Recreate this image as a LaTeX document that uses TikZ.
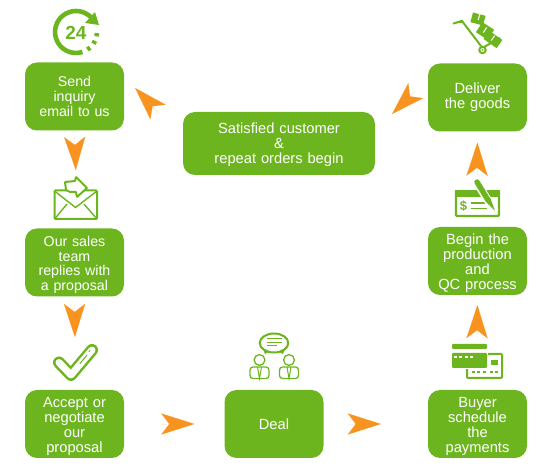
\documentclass[tikz,border=0pt]{standalone}
\usepackage{fontspec}
\setmainfont{Liberation Sans}
\usepackage{xcolor}
\definecolor{leaf}{HTML}{6DB51F}
\definecolor{amber}{HTML}{F7931E}
\usetikzlibrary{arrows.meta, calc}

\newcommand{\lowstrut}{\rule{0pt}{15pt}}

\tikzset{
  stepbox/.style={fill=leaf, text=white, rounded corners=12pt, minimum width=99pt,
    minimum height=68pt, align=center, inner sep=0pt, text width=97pt,
    font=\fontsize{14.7}{14.8}\selectfont},
  flow/.style={line width=0.01pt, amber,
    -{Stealth[length=33pt, width=21pt, inset=8pt, fill=amber]}},
  iconline/.style={draw=leaf, line width=2pt},
  iconfill/.style={fill=leaf, draw=none}
}

\begin{document}
\begin{tikzpicture}[x=1pt, y=-1pt]
\useasboundingbox (0,0) rectangle (550,470);

% Boxes
\node[stepbox, font=\fontsize{14.2}{14.8}\selectfont] (send) at (74.5,96.5) {Send\\inquiry\\email to us};
\node[stepbox, font=\fontsize{14.2}{14.8}\selectfont] (sales) at (74.5,262.5) {\lowstrut Our sales\\team\\replies with\\a proposal};
\node[stepbox] (accept) at (74.5,424) {\lowstrut Accept or\\negotiate\\our\\proposal};
\node[stepbox] (deal) at (274,424) {Deal};
\node[stepbox] (buyer) at (477.5,424) {\lowstrut Buyer\\schedule\\the\\payments};
\node[stepbox] (begin) at (477.5,261) {\lowstrut Begin the\\production\\and\\QC process};
\node[stepbox] (deliver) at (477.5,97.5) {Deliver\\the goods};
\node[stepbox, minimum width=192pt, text width=190pt, minimum height=63pt] (satisfied) at (279,143.5)
  {\rule{0pt}{13pt}Satisfied customer\\\&\\repeat orders begin};

% Free ends beside the icons
\coordinate (mailicon) at (76,176);
\coordinate (checkicon) at (75,344);
\coordinate (cardicon) at (477,344);
\coordinate (chequeicon) at (477,180);

% Arrows
\draw[flow, shorten <=7pt, shorten >=6pt] (send.south) -- (mailicon);
\draw[flow, shorten <=7pt, shorten >=7pt] (sales.south) -- (checkicon);
\draw[flow, shorten <=38pt, shorten >=30pt] (accept.east) -- (deal.west);
\draw[flow, shorten <=25pt, shorten >=47pt] (deal.east) -- (buyer.west);
\draw[flow, shorten <=6pt, shorten >=10pt] (cardicon) -- (begin.south);
\draw[flow, shorten <=5pt, shorten >=11pt] (chequeicon) -- (deliver.south);
\draw[flow, shorten <=35pt, shorten >=16pt] ([yshift=5.5pt]satisfied.west) -- ([yshift=20pt]send.east);
\draw[flow, shorten <=17.5pt, shorten >=23.8pt] ([yshift=18.7pt]deliver.west) -- ([yshift=12.9pt]satisfied.east);

% Clock icon
\draw[iconline, line width=4.6pt] (76,32) ++(72:21) arc[start angle=72, end angle=318, radius=21];
\fill[leaf] (95,12) -- (99,25) -- (85,23) -- cycle;
\foreach \a in {3, 25, 48}
  \draw[iconline, line width=4.6pt] (76,32) ++(\a:21) arc[start angle=\a, end angle=\a+9, radius=21];
\node[text=leaf, font=\fontsize{19}{19}\selectfont\bfseries, inner sep=0pt] (clocktext) at (76,32.5) {24};

% Mail icon
\draw[iconline, rounded corners=1pt] (54.5,190.5) rectangle (97,219);
\draw[iconline, line width=1.4pt] (54.5,191) -- (75.5,207.5) -- (97,191);
\draw[iconline, line width=1.4pt] (55,218.5) -- (67,204);
\draw[iconline, line width=1.4pt] (96.5,218.5) -- (84,204);
\draw[iconline, fill=white, rounded corners=0.5pt] (65,182) -- (75,181) -- (76,177) -- (87,188) -- (77,197) -- (76,192) -- (70,192) -- (66,190) -- cycle;

% Check icon
\draw[leaf, line width=12pt, line cap=round, line join=round] (59,362.5) -- (71,375) -- (92,350);
\draw[white, line width=7pt, line cap=round, line join=round] (59,362.5) -- (71,375) -- (92,350);
\draw[leaf, line width=1pt, line cap=round] (80,363.5) -- (87,355);
\draw[leaf, line width=1pt, line cap=round] (89,351.5) -- (90,350.5);

% Hand truck icon
\draw[iconline, line cap=round] (453.5,23.5) -- (462,21) -- (481,46);
\fill[leaf] (453,23) -- (462,20) -- (464,23) -- cycle;
\draw[iconline] (482.5,50) circle (3.2pt);
\fill[leaf] (482.5,50) circle (1pt);
\draw[iconline] (484,47) -- (500,38);
\foreach \cx/\cy/\w/\h/\r in {478/19/13/10/-15, 485/31/14/12/-33, 493/39.5/16/10/-35}
  \fill[leaf, rotate around={\r:(\cx,\cy)}] (\cx-\w/2,\cy-\h/2) rectangle (\cx+\w/2,\cy+\h/2);
\foreach \cx/\cy/\r in {479/17/-15, 485/30/-33, 493/38/-35}
  \draw[white, line width=1pt, rotate around={\r:(\cx,\cy)}] (\cx,\cy-3) -- (\cx,\cy+3);

% Cheque icon
\draw[iconline, line width=2.4pt, rounded corners=1pt] (456,192) rectangle (499,216);
\fill[leaf] (455,190) rectangle (500,197);
\node[text=leaf, font=\fontsize{13}{13}\selectfont\bfseries, inner sep=0pt] (dollar) at (463.5,206) {\$};
\foreach \y in {203, 208.5}
  \draw[iconline, line width=1.6pt] (470.5,\y) -- (487,\y);
\draw[white, line width=8pt] (476,181) -- (495,212);
\draw[leaf, line width=5.4pt, line cap=round] (477,182) -- (488,200);
\fill[leaf] (485.5,201.5) -- (490.5,198.5) -- (495,211) -- cycle;

% Deal icon
\draw[iconline, fill=white] (274,343) ellipse (14.3pt and 9.5pt);
\fill[leaf] (263,349) -- (269,352) -- (265,354) -- cycle;
\fill[leaf] (285,349) -- (279,352) -- (283,354) -- cycle;
\foreach \y/\e in {338.5/282, 342.5/282, 346/277}
  \draw[iconline, line width=1pt] (267,\y) -- (\e,\y);
\foreach \px in {259.5, 289}{
  \draw[iconline, line width=1.3pt] (\px,360) circle (5.4pt);
  \draw[iconline, line width=1.3pt, rounded corners=3pt] (\px-9.5,378.5) -- (\px-9.5,367) -- (\px+9.5,367) -- (\px+9.5,378.5) -- cycle;
  \draw[iconline, line width=1pt] (\px-2,367) -- (\px,378.5) -- (\px+2,367);
}

% Card icon
\draw[iconline, rounded corners=1pt] (467,354) rectangle (502,378);
\fill[white] (464,351) rectangle (488,369.5);
\fill[leaf, rounded corners=1pt] (452,344) rectangle (487,349);
\fill[leaf, rounded corners=1pt] (452,353) rectangle (487,368);
\fill[leaf] (491,360) rectangle (498,365);
\foreach \x in {455, 460, 466, 471}
  \fill[white] (\x-1.5,356) rectangle (\x+1.5,358.5);
\foreach \x in {473, 478, 484, 491, 496}
  \fill[leaf] (\x-1.5,371) rectangle (\x+1.5,373.5);
\end{tikzpicture}
\end{document}
